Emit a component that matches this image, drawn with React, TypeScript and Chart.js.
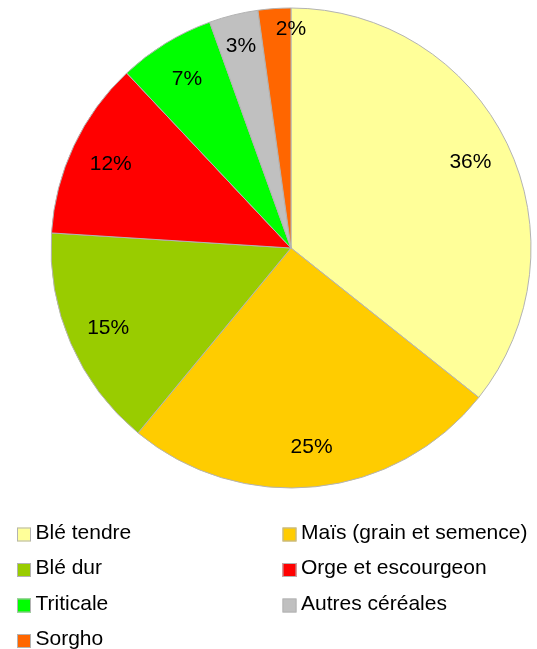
import React, { useEffect, useRef } from "react";
import { Chart, registerables } from "chart.js";

Chart.register(...registerables);

const categories = [
  "Blé tendre",
  "Maïs (grain et semence)",
  "Blé dur",
  "Orge et escourgeon",
  "Triticale",
  "Autres céréales",
  "Sorgho",
];
const values = [35.7, 25.3, 15.0, 12.0, 6.5, 3.3, 2.2];
const percentLabels = ["36%", "25%", "15%", "12%", "7%", "3%", "2%"];
const colors = ["#ffff99", "#ffcc00", "#99cc00", "#ff0000", "#00ff00", "#c0c0c0", "#ff6600"];

const FONT = "'Liberation Sans', Arial, sans-serif";

const overlayPlugin = {
  id: "overlay",
  afterDatasetsDraw(chart: any) {
    const ctx = chart.ctx;
    const meta = chart.getDatasetMeta(0);
    const total = values.reduce((a, b) => a + b, 0);
    ctx.save();
    ctx.fillStyle = "#000";
    ctx.font = `21px ${FONT}`;
    ctx.textAlign = "center";
    ctx.textBaseline = "middle";
    meta.data.forEach((arc: any, i: number) => {
      const { x, y, startAngle, endAngle, outerRadius } = arc.getProps(
        ["x", "y", "startAngle", "endAngle", "outerRadius"],
        true
      );
      const pct = (values[i] / total) * 100;
      let ang = (startAngle + endAngle) / 2;
      let r = outerRadius * 0.83;
      if (pct < 4.3) r += (4.3 - pct) * 10;
      if (pct < 3) ang = endAngle;
      ctx.fillText(percentLabels[i], x + Math.cos(ang) * r, y + Math.sin(ang) * r + 1);
    });

    // legend
    ctx.textAlign = "left";
    ctx.textBaseline = "alphabetic";
    const colX = [17, 282.5];
    const baseY = 538.5;
    const rowH = 35.5;
    categories.forEach((name, i) => {
      const col = i % 2;
      const row = Math.floor(i / 2);
      const bx = colX[col];
      const by = baseY + row * rowH - 11;
      ctx.fillStyle = colors[i];
      ctx.fillRect(bx, by, 14, 14);
      ctx.strokeStyle = "#b3b3b3";
      ctx.lineWidth = 1;
      ctx.strokeRect(bx + 0.5, by + 0.5, 13, 13);
      ctx.fillStyle = "#000";
      ctx.fillText(name, bx + 18.5, baseY + row * rowH);
    });
    ctx.restore();
  },
};

export default function App() {
  const ref = useRef<HTMLCanvasElement | null>(null);
  useEffect(() => {
    document.body.style.margin = "0";
    const canvas = ref.current;
    if (!canvas) return;
    const chart = new Chart(canvas, {
      type: "pie",
      data: {
        labels: categories,
        datasets: [
          {
            data: values,
            backgroundColor: colors,
            borderColor: "#b3b3b3",
            borderWidth: 1,
            radius: 240,
          } as any,
        ],
      },
      options: {
        responsive: false,
        animation: false,
        devicePixelRatio: 1,
        layout: { padding: { left: 51, right: 6, top: 8, bottom: 161 } },
        plugins: {
          legend: { display: false },
          tooltip: { enabled: false },
        },
      },
      plugins: [overlayPlugin],
    });
    return () => chart.destroy();
  }, []);
  return (
    <div style={{ width: 537, height: 649, background: "#fff" }}>
      <canvas ref={ref} width={537} height={649} style={{ display: "block" }} />
    </div>
  );
}
